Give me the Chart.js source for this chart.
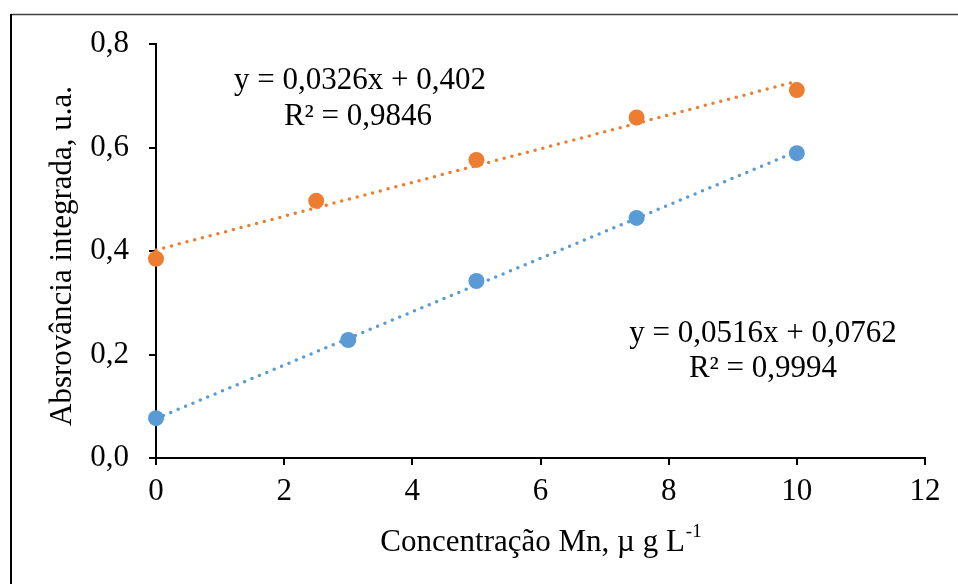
<!DOCTYPE html>
<html>
<head>
<meta charset="utf-8">
<script src="https://cdn.jsdelivr.net/npm/chart.js@4"></script>
<style>
html,body{margin:0;padding:0;background:#fff;}
#wrap{width:958px;height:584px;position:relative;}
</style>
</head>
<body>
<div id="wrap"><canvas id="c" width="958" height="584"></canvas></div>
<script>
const xBlue = [0, 3, 5, 7.5, 10];
const yBlue = [0.077, 0.228, 0.342, 0.464, 0.589];
const xOrange = [0, 2.5, 5, 7.5, 10];
const yOrange = [0.385, 0.497, 0.576, 0.658, 0.711];
const trendX = [0, 10];
const trendBlue = [0.0762, 0.5922];
const trendOrange = [0.402, 0.728];
const xTicks = [0, 2, 4, 6, 8, 10, 12];
const yTicks = [0.0, 0.2, 0.4, 0.6, 0.8];
const eqOrange = ["y = 0,0326x + 0,402", "R² = 0,9846"];
const eqBlue = ["y = 0,0516x + 0,0762", "R² = 0,9994"];
const xTitle = "Concentração Mn, µ g L";
const xTitleSup = "-1";
const yTitle = "Absrovância integrada, u.a.";

const BLUE = "#5B9BD5", ORANGE = "#ED7D31";
const FONT = "'Liberation Serif', 'Times New Roman', serif";
const FS = 31;

const pts = (xs, ys) => xs.map((x, i) => ({x: x, y: ys[i]}));

const decor = {
  id: 'decor',
  beforeDraw(chart) {
    const ctx = chart.ctx;
    ctx.save();
    ctx.fillStyle = '#fff';
    ctx.fillRect(0, 0, chart.width, chart.height);
    ctx.strokeStyle = '#404040';
    ctx.lineWidth = 1.5;
    ctx.beginPath(); ctx.moveTo(11, 14.5); ctx.lineTo(958, 14.5); ctx.stroke();
    ctx.strokeStyle = '#000';
    ctx.lineWidth = 2;
    ctx.beginPath(); ctx.moveTo(11, 14); ctx.lineTo(11, 584); ctx.stroke();
    ctx.restore();
  },
  afterDraw(chart) {
    const ctx = chart.ctx;
    const xs = chart.scales.x, ys = chart.scales.y;
    ctx.save();
    ctx.fillStyle = '#000';
    ctx.font = FS + 'px ' + FONT;
    ctx.textAlign = 'center';
    ctx.textBaseline = 'middle';
    ctx.fillText(eqOrange[0], 360, 81);
    ctx.fillText(eqOrange[1], 358, 117);
    ctx.fillText(eqBlue[0], 763, 334);
    ctx.fillText(eqBlue[1], 763, 369);
    // x title
    const w1 = ctx.measureText(xTitle).width;
    ctx.font = '19px ' + FONT;
    const w2 = ctx.measureText(xTitleSup).width;
    const cx = (xs.left + xs.right) / 2;
    const start = cx - (w1 + w2) / 2;
    ctx.textAlign = 'left';
    ctx.font = FS + 'px ' + FONT;
    ctx.fillText(xTitle, start, 543);
    ctx.font = '19px ' + FONT;
    ctx.fillText(xTitleSup, start + w1 + 1, 532);
    // y title
    ctx.font = FS + 'px ' + FONT;
    ctx.textAlign = 'center';
    ctx.translate(63, (ys.top + ys.bottom) / 2 + 5);
    ctx.rotate(-Math.PI / 2);
    ctx.fillText(yTitle, 0, 0);
    ctx.restore();
  }
};

new Chart(document.getElementById('c'), {
  type: 'scatter',
  data: {
    datasets: [
      {
        label: 'trend orange', type: 'line', data: pts(trendX, trendOrange),
        borderColor: ORANGE, borderWidth: 3.5, borderDash: [0, 8], borderCapStyle: 'round',
        pointRadius: 0, fill: false, order: 3, clip: false
      },
      {
        label: 'trend blue', type: 'line', data: pts(trendX, trendBlue),
        borderColor: BLUE, borderWidth: 3.5, borderDash: [0, 8], borderCapStyle: 'round',
        pointRadius: 0, fill: false, order: 3, clip: false
      },
      {
        label: 'orange', data: pts(xOrange, yOrange),
        backgroundColor: ORANGE, borderColor: ORANGE, pointRadius: 8, borderWidth: 0,
        order: 1, clip: false
      },
      {
        label: 'blue', data: pts(xBlue, yBlue),
        backgroundColor: BLUE, borderColor: BLUE, pointRadius: 8, borderWidth: 0,
        order: 1, clip: false
      }
    ]
  },
  options: {
    responsive: false,
    animation: false,
    layout: {padding: {left: 0, top: 44, right: 33, bottom: 0}},
    plugins: {legend: {display: false}, tooltip: {enabled: false}},
    scales: {
      x: {
        type: 'linear', min: 0, max: 12,
        afterBuildTicks: (axis) => { axis.ticks = xTicks.map(v => ({value: v})); },
        afterFit: (axis) => { axis.height = 126; },
        border: {color: '#000', width: 2},
        grid: {drawOnChartArea: false, color: '#000', lineWidth: 2, tickLength: 7},
        ticks: {color: '#000', font: {family: FONT, size: FS}, padding: 8,
                callback: v => String(v)}
      },
      y: {
        type: 'linear', min: 0, max: 0.8,
        afterBuildTicks: (axis) => { axis.ticks = yTicks.map(v => ({value: v})); },
        afterFit: (axis) => { axis.width = 156; },
        border: {color: '#000', width: 2},
        grid: {drawOnChartArea: false, color: '#000', lineWidth: 2, tickLength: 7},
        ticks: {color: '#000', font: {family: FONT, size: FS}, padding: 20,
                callback: v => v.toFixed(1).replace('.', ',')}
      }
    }
  },
  plugins: [decor]
});
</script>
</body>
</html>
